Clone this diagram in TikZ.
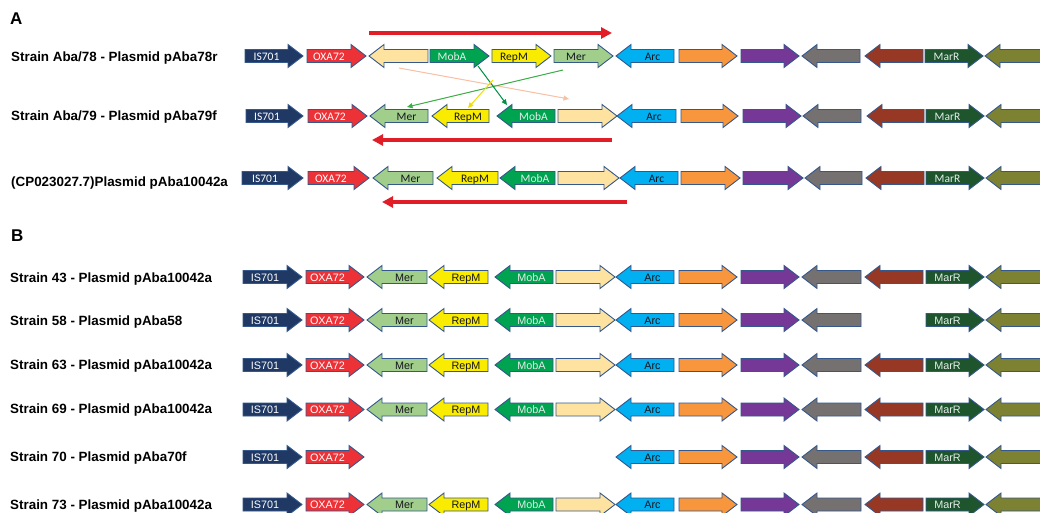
\documentclass[tikz,border=0pt]{standalone}
\usepackage{fontspec}
\setmainfont{Liberation Sans}
\newfontfamily\calibrilike{Carlito}
\usetikzlibrary{arrows.meta}

% gene colours
\definecolor{cIS}{RGB}{31,56,100}
\definecolor{cOXA}{RGB}{236,50,55}
\definecolor{cCream}{RGB}{253,226,160}
\definecolor{cMob}{RGB}{0,163,80}
\definecolor{cRep}{RGB}{250,236,0}
\definecolor{cMer}{RGB}{162,206,140}
\definecolor{cArc}{RGB}{0,176,240}
\definecolor{cOrange}{RGB}{247,150,60}
\definecolor{cPurple}{RGB}{118,56,150}
\definecolor{cGray}{RGB}{118,113,113}
\definecolor{cBrown}{RGB}{150,56,36}
\definecolor{cMarR}{RGB}{30,85,45}
\definecolor{cOlive}{RGB}{125,130,50}
\definecolor{cEdge}{RGB}{52,88,140}
\definecolor{cRed}{RGB}{225,30,40}
\definecolor{cPeach}{RGB}{248,192,165}
\definecolor{cLine}{RGB}{60,175,70}
\definecolor{cMobLine}{RGB}{0,145,70}
\definecolor{cYelLine}{RGB}{240,222,0}
\definecolor{cDarkText}{RGB}{20,20,30}
\definecolor{cLightText}{RGB}{230,238,235}

\tikzset{
  geneshape/.style={draw=cEdge, line width=0.9pt, line join=miter},
  genetext/.style={anchor=base, inner sep=0pt, font=\fontsize{10.8}{12}\selectfont},
  rowlabel/.style={anchor=base west, inner sep=0pt, font=\bfseries\fontsize{13.4}{15}\selectfont},
  panel/.style={anchor=base west, inner sep=0pt, font=\bfseries\fontsize{17}{19}\selectfont},
  span/.style={draw=cRed, line width=4pt, -{Triangle[length=11pt,width=11pt]}},
  swap/.style={line width=1pt, -{Triangle[length=5.5pt,width=5pt]}}
}

% right-pointing gene: name, left x, tip x, centre y, fill, label, label colour
\newcommand\rgene[7]{%
  \path[geneshape, fill=#5] (#2,#4-6.5) -- (#3-15,#4-6.5) -- (#3-15,#4-11.5) -- (#3,#4)
    -- (#3-15,#4+11.5) -- (#3-15,#4+6.5) -- (#2,#4+6.5) -- cycle;
  \node[genetext, text=#7] (#1) at ({(#2+#3-15)/2},#4+4.2) {#6};
}
% left-pointing gene: name, tip x, right x, centre y, fill, label, label colour
\newcommand\lgene[7]{%
  \path[geneshape, fill=#5] (#3,#4-6.5) -- (#2+15,#4-6.5) -- (#2+15,#4-11.5) -- (#2,#4)
    -- (#2+15,#4+11.5) -- (#2+15,#4+6.5) -- (#3,#4+6.5) -- cycle;
  \node[genetext, text=#7] (#1) at ({(#2+15+#3)/2},#4+4.2) {#6};
}

% gene blocks of the panel B rows: prefix, centre y
\newcommand\bcore[2]{%
  \rgene{#1-is}{243}{302}{#2}{cIS}{IS701}{white}
  \rgene{#1-oxa}{306}{364}{#2}{cOXA}{OXA72}{white}}
\newcommand\bmob[2]{%
  \lgene{#1-mer}{367}{427}{#2}{cMer}{Mer}{cDarkText}
  \lgene{#1-rep}{429}{488}{#2}{cRep}{RepM}{cDarkText}
  \lgene{#1-mob}{495}{553}{#2}{cMob}{MobA}{cLightText}
  \rgene{#1-cream}{556}{615}{#2}{cCream}{}{black}}
\newcommand\barc[2]{%
  \lgene{#1-arc}{616}{674}{#2}{cArc}{Arc}{cDarkText}
  \rgene{#1-orange}{679}{737}{#2}{cOrange}{}{black}
  \rgene{#1-purple}{741}{799}{#2}{cPurple}{}{black}
  \lgene{#1-gray}{802}{861}{#2}{cGray}{}{black}}
\newcommand\bbrown[2]{%
  \lgene{#1-brown}{865}{923}{#2}{cBrown}{}{black}}
\newcommand\bmar[2]{%
  \rgene{#1-marr}{926}{984}{#2}{cMarR}{MarR}{cLightText}
  \lgene{#1-olive}{986}{1048}{#2}{cOlive}{}{black}}

\begin{document}
\begin{tikzpicture}[x=1pt, y=-1pt]
\useasboundingbox (0,0) rectangle (1040,513);
\clip (0,0) rectangle (1040,513);

% ---------------- panel A ----------------
\node[panel] (pA) at (10,25) {A};
\node[rowlabel] (lA1) at (11,61.5) {Strain Aba/78 - Plasmid pAba78r};
\node[rowlabel] (lA2) at (11,120.7) {Strain Aba/79 - Plasmid pAba79f};
\node[rowlabel] (lA3) at (11,186) {(CP023027.7)Plasmid pAba10042a};

\begin{scope}[genetext/.append style={font=\calibrilike\fontsize{11.5}{13}\selectfont}]
% pAba78r
\rgene{a1-is}{245}{303}{56}{cIS}{IS701}{white}
\rgene{a1-oxa}{307}{366}{56}{cOXA}{OXA72}{white}
\lgene{a1-cream}{369}{428}{56}{cCream}{}{black}
\rgene{a1-mob}{430}{489}{56}{cMob}{MobA}{cLightText}
\rgene{a1-rep}{492}{551}{56}{cRep}{RepM}{cDarkText}
\rgene{a1-mer}{554}{613}{56}{cMer}{Mer}{cDarkText}
\lgene{a1-arc}{616}{674}{56}{cArc}{Arc}{cDarkText}
\rgene{a1-orange}{679}{737}{56}{cOrange}{}{black}
\rgene{a1-purple}{741}{799}{56}{cPurple}{}{black}
\lgene{a1-gray}{802}{860}{56}{cGray}{}{black}
\lgene{a1-brown}{865}{923}{56}{cBrown}{}{black}
\rgene{a1-marr}{925}{983}{56}{cMarR}{MarR}{cLightText}
\lgene{a1-olive}{985}{1048}{56}{cOlive}{}{black}
% pAba79f
\rgene{a2-is}{246}{303}{116}{cIS}{IS701}{white}
\rgene{a2-oxa}{308}{367}{116}{cOXA}{OXA72}{white}
\lgene{a2-mer}{370}{428}{116}{cMer}{Mer}{cDarkText}
\lgene{a2-rep}{432}{489}{116}{cRep}{RepM}{cDarkText}
\lgene{a2-mob}{497}{555}{116}{cMob}{MobA}{cLightText}
\rgene{a2-cream}{558}{617}{116}{cCream}{}{black}
\lgene{a2-arc}{617}{676}{116}{cArc}{Arc}{cDarkText}
\rgene{a2-orange}{681}{738}{116}{cOrange}{}{black}
\rgene{a2-purple}{743}{801}{116}{cPurple}{}{black}
\lgene{a2-gray}{803}{861}{116}{cGray}{}{black}
\lgene{a2-brown}{867}{924}{116}{cBrown}{}{black}
\rgene{a2-marr}{926}{984}{116}{cMarR}{MarR}{cLightText}
\lgene{a2-olive}{986}{1048}{116}{cOlive}{}{black}
% pAba10042a reference
\rgene{a3-is}{242}{303}{178}{cIS}{IS701}{white}
\rgene{a3-oxa}{308}{369}{178}{cOXA}{OXA72}{white}
\lgene{a3-mer}{373}{433}{178}{cMer}{Mer}{cDarkText}
\lgene{a3-rep}{437}{498}{178}{cRep}{RepM}{cDarkText}
\lgene{a3-mob}{500}{555}{178}{cMob}{MobA}{cLightText}
\rgene{a3-cream}{558}{619}{178}{cCream}{}{black}
\lgene{a3-arc}{620}{678}{178}{cArc}{Arc}{cDarkText}
\rgene{a3-orange}{681}{740}{178}{cOrange}{}{black}
\rgene{a3-purple}{743}{803}{178}{cPurple}{}{black}
\lgene{a3-gray}{805}{862}{178}{cGray}{}{black}
\lgene{a3-brown}{866}{924}{178}{cBrown}{}{black}
\rgene{a3-marr}{926}{984}{178}{cMarR}{MarR}{cLightText}
\lgene{a3-olive}{986}{1048}{178}{cOlive}{}{black}
\end{scope}

% orientation of the inverted segment
\coordinate (r1s) at (369,33);  \coordinate (r1e) at (612,33);
\coordinate (r2s) at (612,140); \coordinate (r2e) at (372,140);
\coordinate (r3s) at (627,202); \coordinate (r3e) at (382,202);
\draw[span] (r1s) -- (r1e);
\draw[span] (r2s) -- (r2e);
\draw[span] (r3s) -- (r3e);

% gene moves between pAba78r and pAba79f
\coordinate (creamFrom) at (399,68);  \coordinate (creamTo) at (569,99);
\coordinate (merFrom) at (563,70);    \coordinate (merTo) at (407,107);
\coordinate (mobFrom) at (478,66);    \coordinate (mobTo) at (507,105);
\coordinate (repFrom) at (493,80);    \coordinate (repTo) at (468,108);
\draw[swap, draw=cPeach, fill=cPeach] (creamFrom) -- (creamTo);
\draw[swap, draw=cLine, fill=cLine] (merFrom) -- (merTo);
\draw[swap, draw=cMobLine, fill=cMobLine] (mobFrom) -- (mobTo);
\draw[swap, draw=cYelLine, fill=cYelLine] (repFrom) -- (repTo);

% ---------------- panel B ----------------
\node[panel] (pB) at (11,241) {B};
\node[rowlabel] (lB1) at (10,282.5) {Strain 43 - Plasmid pAba10042a};
\node[rowlabel] (lB2) at (10,325) {Strain 58 - Plasmid pAba58};
\node[rowlabel] (lB3) at (10,369) {Strain 63 - Plasmid pAba10042a};
\node[rowlabel] (lB4) at (10,413.5) {Strain 69 - Plasmid pAba10042a};
\node[rowlabel] (lB5) at (10,461) {Strain 70 - Plasmid pAba70f};
\node[rowlabel] (lB6) at (10,509) {Strain 73 - Plasmid pAba10042a};

\bcore{s43}{277}\bmob{s43}{277}\barc{s43}{277}\bbrown{s43}{277}\bmar{s43}{277}
\bcore{s58}{320}\bmob{s58}{320}\barc{s58}{320}\bmar{s58}{320}
\bcore{s63}{365}\bmob{s63}{365}\barc{s63}{365}\bbrown{s63}{365}\bmar{s63}{365}
\bcore{s69}{409.5}\bmob{s69}{409.5}\barc{s69}{409.5}\bbrown{s69}{409.5}\bmar{s69}{409.5}
\bcore{s70}{457}\barc{s70}{457}\bbrown{s70}{457}\bmar{s70}{457}
\bcore{s73}{504.5}\bmob{s73}{504.5}\barc{s73}{504.5}\bbrown{s73}{504.5}\bmar{s73}{504.5}
\end{tikzpicture}
\end{document}
